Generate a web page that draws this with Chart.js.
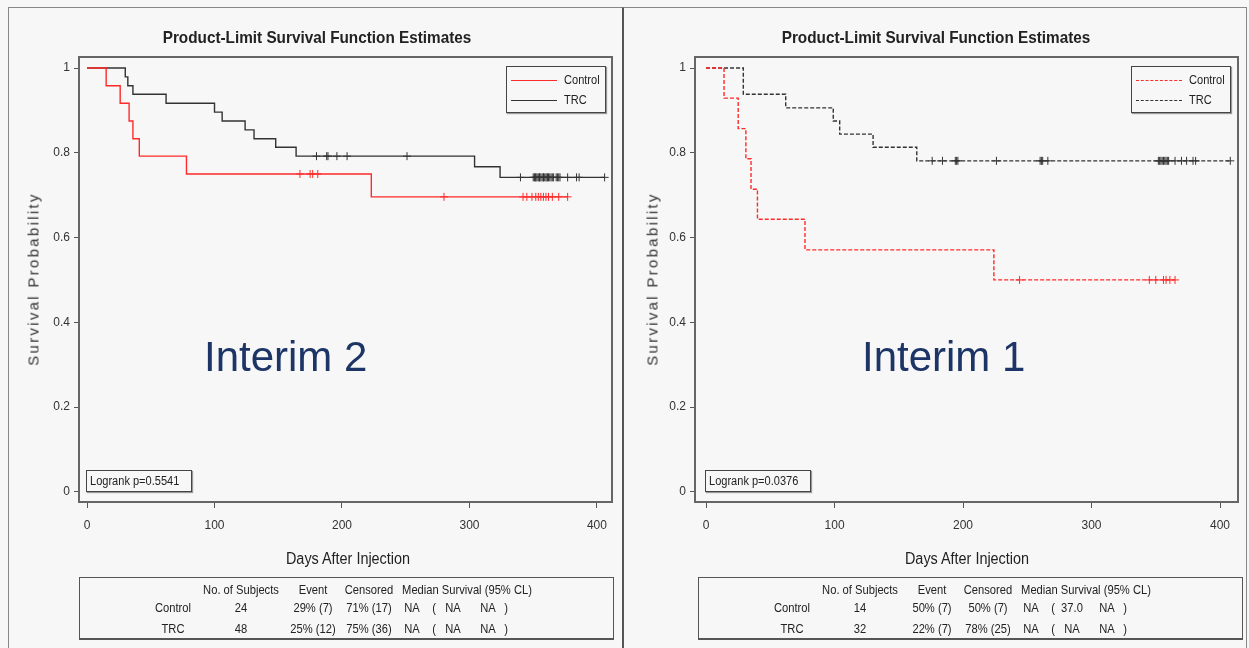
<!DOCTYPE html>
<html lang="en">
<head>
<meta charset="UTF-8">
<title>Product-Limit Survival Function Estimates</title>
<script src="https://cdn.jsdelivr.net/npm/chart.js"></script>
<style>
  body { margin: 0; background: #f7f7f7; font-family: "Liberation Sans", Arial, sans-serif; color: #222; }
  #page { position: relative; width: 1249px; height: 648px; overflow: hidden; }
  .panel { position: absolute; top: 7px; height: 660px; border: 1px solid #888; box-sizing: border-box; }
  canvas { position: absolute; top: 0; }
  .t { position: absolute; white-space: nowrap; }
  .title { font-weight: bold; font-size: 17px; transform: translateX(-50%) scaleX(0.9); }
  .xtitle { font-size: 16px; transform: translateX(-50%) scaleX(0.9); }
  .ytitle { font-size: 15px; letter-spacing: 2.3px; color: #333; transform: translate(-50%, -50%) rotate(-90deg); }
  .interim { font-size: 42px; color: #1c3566; }
  .box { position: absolute; border: 1px solid #444; box-shadow: 1px 1px 1px #999; background: #f7f7f7; }
  .legend .row { position: absolute; left: 4px; height: 20px; line-height: 20px; font-size: 13px; white-space: nowrap; }
  .legend .ln { display: inline-block; width: 46px; vertical-align: middle; margin-right: 7px; }
  .legend .lab { display: inline-block; transform: scaleX(0.85); transform-origin: left center; }
  .logrank { font-size: 12px; padding: 0 3px; line-height: 20px; }
  .logrank span { display: inline-block; transform: scaleX(0.92); transform-origin: left center; }
  .table { position: absolute; border: 1px solid #555; border-bottom: 2px solid #555; font-size: 13px; }
  .table .c { position: absolute; white-space: nowrap; transform: translateX(-50%) scaleX(0.86); }
</style>
</head>
<body>
<div id="page">
  <div class="panel" style="left:8px; width:615px;"></div>
  <div class="panel" style="left:622px; width:625px; border-left:2px solid #555;"></div>
  <canvas id="c2" width="622" height="648" style="left:0;"></canvas>
  <canvas id="c1" width="627" height="648" style="left:622px;"></canvas>
  <div id="overlay"></div>
</div>
<script>
// ---- data ----
const xTicks = [0, 100, 200, 300, 400];
const yTicks = [0, 0.2, 0.4, 0.6, 0.8, 1];
const yTickLabels = ['0', '0.2', '0.4', '0.6', '0.8', '1'];

// Interim 2 (left)
const ctrlDays2 = [15, 26, 33, 36, 41, 78, 223];
const ctrlSurv2 = [0.958, 0.917, 0.875, 0.833, 0.792, 0.750, 0.696];
const ctrlEnd2 = 377;
const ctrlCens2 = [167, 175, 177, 181, 280, 342, 345, 349, 352, 354, 356, 358, 360, 362, 365, 370, 377];
const trcDays2 = [30, 32, 36, 62, 100, 106, 124, 131, 148, 164, 304, 324];
const trcSurv2 = [0.979, 0.958, 0.938, 0.917, 0.896, 0.875, 0.854, 0.833, 0.813, 0.792, 0.767, 0.742];
const trcEnd2 = 406;
const trcCens2 = [180, 188, 189, 196, 204, 251, 340, 350, 351, 352, 352, 353, 354, 355, 355, 356, 357, 358, 358, 359,
                  360, 361, 361, 362, 363, 364, 365, 366, 368, 369, 370, 371, 377, 384, 386, 406];

// Interim 1 (right)
const ctrlDays1 = [14, 25, 31, 35, 40, 77, 224];
const ctrlSurv1 = [0.929, 0.857, 0.786, 0.714, 0.643, 0.571, 0.500];
const ctrlEnd1 = 365;
const ctrlCens1 = [244, 345, 350, 356, 358, 361, 365];
const trcDays1 = [29, 62, 99, 104, 130, 164];
const trcSurv1 = [0.938, 0.906, 0.875, 0.844, 0.813, 0.781];
const trcEnd1 = 408;
const trcCens1 = [176, 184, 194, 195, 196, 226, 260, 261, 262, 266, 352, 353, 354, 355, 356, 357, 358, 359, 360,
                  365, 370, 374, 379, 381, 408];

const tableHead = ['No. of Subjects', 'Event', 'Censored', 'Median Survival (95% CL)'];
const table2 = [
  ['Control', '24', '29% (7)', '71% (17)', 'NA', 'NA', 'NA'],
  ['TRC', '48', '25% (12)', '75% (36)', 'NA', 'NA', 'NA']
];
const table1 = [
  ['Control', '14', '50% (7)', '50% (7)', 'NA', '37.0', 'NA'],
  ['TRC', '32', '22% (7)', '78% (25)', 'NA', 'NA', 'NA']
];

const RED = '#ff2a2a';
const BLACK = '#333333';

function stepPoints(days, surv, end) {
  const pts = [{x: 0, y: 1}];
  days.forEach((d, i) => pts.push({x: d, y: surv[i]}));
  pts.push({x: end, y: surv[surv.length - 1]});
  return pts;
}

function survAt(days, surv, t) {
  let s = 1;
  days.forEach((d, i) => { if (d <= t) s = surv[i]; });
  return s;
}

function censorPoints(days, surv, cens) {
  return cens.map(t => ({x: t, y: survAt(days, surv, t)}));
}

const framePlugin = {
  id: 'frame',
  afterDraw(chart) {
    const a = chart.chartArea, ctx = chart.ctx;
    ctx.save();
    ctx.strokeStyle = '#666';
    ctx.lineWidth = 2;
    ctx.strokeRect(a.left, a.top, a.right - a.left, a.bottom - a.top);
    ctx.restore();
  }
};

function makeChart(id, o) {
  const dash = o.dashed ? [4, 2] : [];
  new Chart(document.getElementById(id), {
    type: 'line',
    data: {
      datasets: [
        { label: 'Control', data: stepPoints(o.cDays, o.cSurv, o.cEnd), stepped: 'before', borderColor: RED, borderWidth: 1.4, borderDash: dash, pointRadius: 0 },
        { label: 'TRC', data: stepPoints(o.tDays, o.tSurv, o.tEnd), stepped: 'before', borderColor: BLACK, borderWidth: 1.4, borderDash: dash, pointRadius: 0 },
        { type: 'scatter', data: censorPoints(o.cDays, o.cSurv, o.cCens), pointStyle: 'cross', pointRadius: 4, borderColor: RED, borderWidth: 1, showLine: false },
        { type: 'scatter', data: censorPoints(o.tDays, o.tSurv, o.tCens), pointStyle: 'cross', pointRadius: 4, borderColor: BLACK, borderWidth: 1, showLine: false }
      ]
    },
    options: {
      responsive: false,
      animation: false,
      layout: { padding: { left: o.left - 60, top: 57, right: o.right, bottom: 648 - 502 - 40 } },
      plugins: { legend: { display: false }, tooltip: { enabled: false } },
      scales: {
        x: {
          type: 'linear', min: o.xMin, max: o.xMax,
          afterBuildTicks: s => { s.ticks = xTicks.map(v => ({value: v})); },
          afterFit: s => { s.height = 40; },
          border: { display: false },
          grid: { drawOnChartArea: false, drawTicks: true, tickLength: 6, color: '#555' },
          ticks: { color: '#333', padding: 10, font: { family: '"Liberation Sans", Arial', size: 12 } }
        },
        y: {
          min: -0.024, max: 1.026,
          afterBuildTicks: s => { s.ticks = yTicks.map(v => ({value: v})); },
          afterFit: s => { s.width = 60; },
          border: { display: false },
          grid: { drawOnChartArea: false, drawTicks: true, tickLength: 5, color: '#555' },
          ticks: { color: '#333', padding: 4, font: { family: '"Liberation Sans", Arial', size: 12 },
                   callback: (v, i) => yTickLabels[i] }
        }
      }
    },
    plugins: [framePlugin]
  });
}

makeChart('c2', { left: 79, right: 10, xMin: -6.3, xMax: 411.8, dashed: false,
  cDays: ctrlDays2, cSurv: ctrlSurv2, cEnd: ctrlEnd2, cCens: ctrlCens2,
  tDays: trcDays2, tSurv: trcSurv2, tEnd: trcEnd2, tCens: trcCens2 });
makeChart('c1', { left: 73, right: 11, xMin: -8.6, xMax: 414, dashed: true,
  cDays: ctrlDays1, cSurv: ctrlSurv1, cEnd: ctrlEnd1, cCens: ctrlCens1,
  tDays: trcDays1, tSurv: trcSurv1, tEnd: trcEnd1, tCens: trcCens1 });

// ---- text overlays ----
function panelHtml(dx, o) {
  const lineStyle = o.dashed ? 'dashed' : 'solid';
  let h = '';
  h += `<div class="t title" style="left:${317 + dx}px; top:28px;">Product-Limit Survival Function Estimates</div>`;
  h += `<div class="t ytitle" style="left:${33 + dx}px; top:279px;">Survival Probability</div>`;
  h += `<div class="t xtitle" style="left:${348 + dx}px; top:550px;">Days After Injection</div>`;
  h += `<div class="t interim" style="left:${o.ix}px; top:333px;">${o.name}</div>`;
  h += `<div class="box legend" style="left:${o.lx}px; top:66px; width:98px; height:45px;">
          <div class="row" style="top:3px;"><span class="ln" style="border-top:1.5px ${lineStyle} ${RED};"></span><span class="lab">Control</span></div>
          <div class="row" style="top:23px;"><span class="ln" style="border-top:1.5px ${lineStyle} ${BLACK};"></span><span class="lab">TRC</span></div>
        </div>`;
  h += `<div class="box logrank" style="left:${86 + dx}px; top:470px; width:98px;"><span>Logrank p=${o.p}</span></div>`;
  const cols = [240, 312, 368];
  let tb = `<div class="table" style="left:${79 + dx}px; top:577px; width:${o.tw}px; height:60px;">`;
  tb += `<div class="c" style="left:${240 - 79}px; top:4px;">${tableHead[0]}</div>`;
  tb += `<div class="c" style="left:${312 - 79}px; top:4px;">${tableHead[1]}</div>`;
  tb += `<div class="c" style="left:${368 - 79}px; top:4px;">${tableHead[2]}</div>`;
  tb += `<div class="c" style="left:${466 - 79}px; top:4px;">${tableHead[3]}</div>`;
  o.rows.forEach((r, i) => {
    const top = 22 + i * 21;
    tb += `<div class="c" style="left:${172 - 79}px; top:${top}px;">${r[0]}</div>`;
    tb += `<div class="c" style="left:${cols[0] - 79}px; top:${top}px;">${r[1]}</div>`;
    tb += `<div class="c" style="left:${cols[1] - 79}px; top:${top}px;">${r[2]}</div>`;
    tb += `<div class="c" style="left:${cols[2] - 79}px; top:${top}px;">${r[3]}</div>`;
    tb += `<div class="c" style="left:${411 - 79}px; top:${top}px;">${r[4]}</div>`;
    tb += `<div class="c" style="left:${433 - 79}px; top:${top}px;">(</div>`;
    tb += `<div class="c" style="left:${452 - 79}px; top:${top}px;">${r[5]}</div>`;
    tb += `<div class="c" style="left:${487 - 79}px; top:${top}px;">${r[6]}</div>`;
    tb += `<div class="c" style="left:${505 - 79}px; top:${top}px;">)</div>`;
  });
  tb += '</div>';
  return h + tb;
}

document.getElementById('overlay').innerHTML =
  panelHtml(0, { name: 'Interim 2', ix: 204, lx: 506, p: '0.5541', rows: table2, tw: 533, dashed: false }) +
  panelHtml(619, { name: 'Interim 1', ix: 862, lx: 1131, p: '0.0376', rows: table1, tw: 543, dashed: true });
</script>
</body>
</html>
